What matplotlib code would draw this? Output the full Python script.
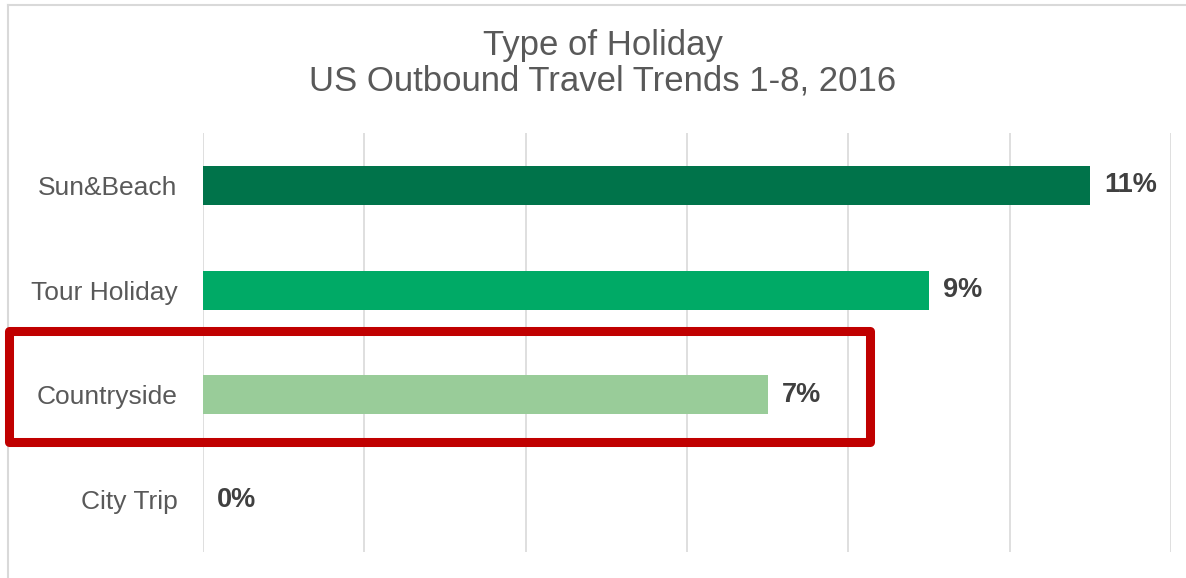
import numpy as np
import matplotlib
matplotlib.use("Agg")
import matplotlib.pyplot as plt
from matplotlib.patches import Rectangle
from matplotlib.lines import Line2D

plt.rcParams['font.family'] = ['Liberation Sans', 'DejaVu Sans']

# data
categories = ['Sun&Beach', 'Tour Holiday', 'Countryside', 'City Trip']
values = [11, 9, 7, 0]
colors = ['#00734A', '#00AA66', '#99CC99', '#99CC99']

W, H = 1186, 578
fig = plt.figure(figsize=(W / 100, H / 100), dpi=100)
fig.patch.set_facecolor('white')

# axes placed to match the reference pixel box
ax = fig.add_axes([203 / W, (H - 552) / H, (1171 - 203) / W, (552 - 133) / H])

y = np.arange(len(categories))
ax.barh(y, values, height=0.37, color=colors, zorder=3)
ax.set_ylim(len(categories) - 0.5, -0.5)
ax.set_xlim(0, 12)
ax.set_xticks(np.arange(0, 13, 2))
ax.set_yticks(y)
ax.set_yticklabels(categories, fontsize=19, color='#595959')
ax.tick_params(axis='y', length=0, pad=18.5)
ax.tick_params(axis='x', length=0, labelbottom=False)
ax.grid(axis='x', color='#D9D9D9', linewidth=1.2, zorder=0)
for s in ax.spines.values():
    s.set_visible(False)

# value labels
for yi, v in zip(y, values):
    ax.annotate(f'{v}%', (v, yi), xytext=(10, 0), textcoords='offset points',
                va='center', ha='left', fontsize=19.5, fontweight='bold',
                color='#404040')

# title, two lines
fig.text(603 / W, 1 - 45 / H, 'Type of Holiday', ha='center', va='center',
         fontsize=25, color='#595959')
fig.text(603 / W, 1 - 81 / H, 'US Outbound Travel Trends 1-8, 2016',
         ha='center', va='center', fontsize=25, color='#595959')

# chart area border (only top and left show in the crop)
fig.add_artist(Line2D([8 / W, 8 / W], [0, 1 - 5 / H], transform=fig.transFigure,
                      color='#D9D9D9', lw=1.5))
fig.add_artist(Line2D([8 / W, 1], [1 - 5 / H, 1 - 5 / H], transform=fig.transFigure,
                      color='#D9D9D9', lw=1.5))

# red highlight box around Countryside
box = Rectangle((8.5 / W, 1 - 441.5 / H), (869.5 - 8.5) / W, (441.5 - 331) / H,
                transform=fig.transFigure, fill=False, edgecolor='#C00000',
                linewidth=6.5, joinstyle='round', zorder=10)
fig.add_artist(box)

fig.savefig('out.png', dpi=100)
